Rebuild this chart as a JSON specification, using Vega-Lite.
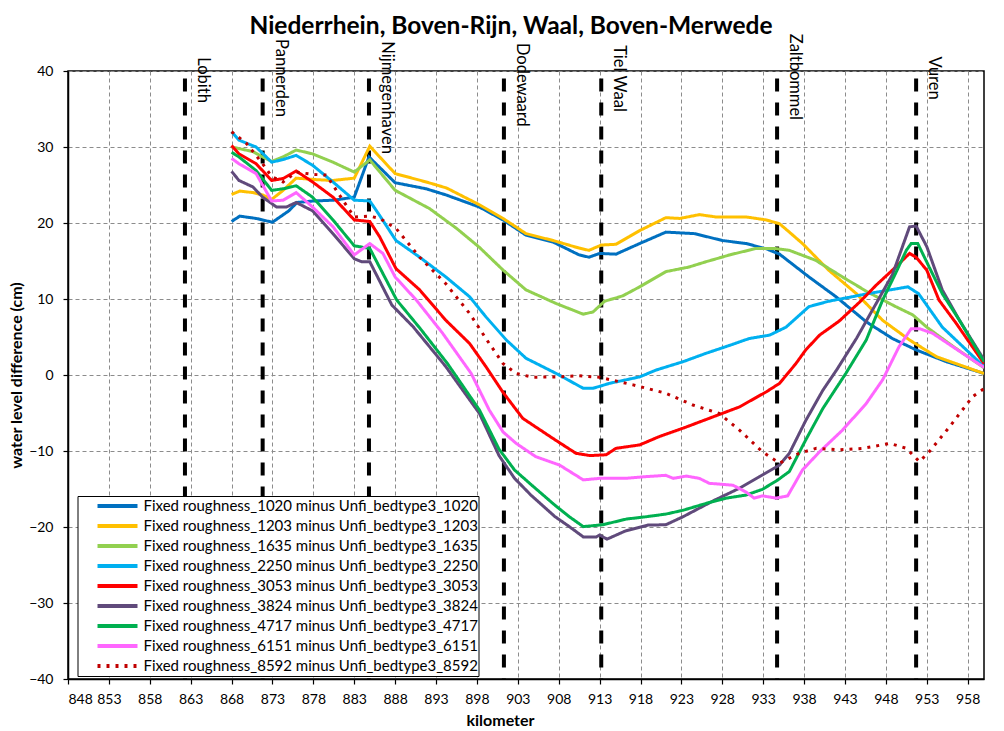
{
  "$schema": "https://vega.github.io/schema/vega-lite/v6.json",
  "width": 916,
  "height": 608,
  "autosize": "none",
  "padding": {"left": 68, "top": 71, "right": 20, "bottom": 52},
  "background": "white",
  "title": {
    "text": "Niederrhein, Boven-Rijn, Waal, Boven-Merwede",
    "font": "Lato",
    "fontSize": 24.5,
    "fontWeight": "bold",
    "color": "#000",
    "anchor": "middle",
    "dx": -15,
    "dy": 8,
    "offset": 2
  },
  "config": {
    "font": "Lato",
    "view": {"stroke": "#000", "strokeWidth": 1.5},
    "axis": {
      "labelFont": "Lato",
      "labelFontSize": 14,
      "labelColor": "#000",
      "titleFont": "Lato",
      "titleFontSize": 16,
      "titleFontWeight": "bold",
      "titleColor": "#000",
      "domainColor": "#000",
      "domainWidth": 1.5,
      "tickColor": "#000",
      "tickWidth": 1.2,
      "tickSize": 5,
      "gridColor": "#8c8c8c",
      "gridDash": [4, 3],
      "gridWidth": 1
    }
  },
  "data": {
    "values": [
      {"run": "1020", "km": 868, "cm": 20.2}, {"run": "1020", "km": 869, "cm": 20.9}, {"run": "1020", "km": 871, "cm": 20.6}, {"run": "1020", "km": 873, "cm": 20.1}, {"run": "1020", "km": 875, "cm": 21.6}, {"run": "1020", "km": 876, "cm": 22.7}, {"run": "1020", "km": 878, "cm": 22.9}, {"run": "1020", "km": 880.5, "cm": 23.0}, {"run": "1020", "km": 883, "cm": 23.4}, {"run": "1020", "km": 884.8, "cm": 28.7}, {"run": "1020", "km": 888, "cm": 25.3}, {"run": "1020", "km": 891.8, "cm": 24.5}, {"run": "1020", "km": 894.2, "cm": 23.7}, {"run": "1020", "km": 898.3, "cm": 22.1}, {"run": "1020", "km": 901.2, "cm": 20.4}, {"run": "1020", "km": 904, "cm": 18.4}, {"run": "1020", "km": 907.3, "cm": 17.5}, {"run": "1020", "km": 910.5, "cm": 15.8}, {"run": "1020", "km": 911.7, "cm": 15.5}, {"run": "1020", "km": 913, "cm": 16.0}, {"run": "1020", "km": 915, "cm": 15.9}, {"run": "1020", "km": 917.9, "cm": 17.3}, {"run": "1020", "km": 921.1, "cm": 18.8}, {"run": "1020", "km": 924.6, "cm": 18.6}, {"run": "1020", "km": 928, "cm": 17.7}, {"run": "1020", "km": 930.9, "cm": 17.3}, {"run": "1020", "km": 933.4, "cm": 16.6}, {"run": "1020", "km": 935, "cm": 15.9}, {"run": "1020", "km": 936.2, "cm": 14.9}, {"run": "1020", "km": 938.6, "cm": 12.9}, {"run": "1020", "km": 941.9, "cm": 10.3}, {"run": "1020", "km": 945.6, "cm": 7.0}, {"run": "1020", "km": 948.8, "cm": 4.8}, {"run": "1020", "km": 951.7, "cm": 3.3}, {"run": "1020", "km": 955.4, "cm": 1.75}, {"run": "1020", "km": 960, "cm": 0.2},

      {"run": "1203", "km": 868, "cm": 23.75}, {"run": "1203", "km": 869, "cm": 24.2}, {"run": "1203", "km": 870.6, "cm": 24.0}, {"run": "1203", "km": 871.8, "cm": 23.7}, {"run": "1203", "km": 872.9, "cm": 23.1}, {"run": "1203", "km": 874.3, "cm": 24.3}, {"run": "1203", "km": 875.9, "cm": 25.9}, {"run": "1203", "km": 878.4, "cm": 25.7}, {"run": "1203", "km": 880.4, "cm": 25.6}, {"run": "1203", "km": 883, "cm": 25.9}, {"run": "1203", "km": 884.9, "cm": 30.1}, {"run": "1203", "km": 888, "cm": 26.5}, {"run": "1203", "km": 891.8, "cm": 25.4}, {"run": "1203", "km": 894.3, "cm": 24.6}, {"run": "1203", "km": 898.3, "cm": 22.4}, {"run": "1203", "km": 901.2, "cm": 20.6}, {"run": "1203", "km": 904, "cm": 18.6}, {"run": "1203", "km": 907.3, "cm": 17.7}, {"run": "1203", "km": 910.5, "cm": 16.7}, {"run": "1203", "km": 911.7, "cm": 16.4}, {"run": "1203", "km": 913.2, "cm": 17.1}, {"run": "1203", "km": 915, "cm": 17.2}, {"run": "1203", "km": 917.9, "cm": 19.0}, {"run": "1203", "km": 921.1, "cm": 20.7}, {"run": "1203", "km": 922.8, "cm": 20.6}, {"run": "1203", "km": 925.2, "cm": 21.1}, {"run": "1203", "km": 927.2, "cm": 20.8}, {"run": "1203", "km": 930.9, "cm": 20.8}, {"run": "1203", "km": 933.4, "cm": 20.4}, {"run": "1203", "km": 935, "cm": 19.9}, {"run": "1203", "km": 936.2, "cm": 18.8}, {"run": "1203", "km": 937.8, "cm": 17.3}, {"run": "1203", "km": 941, "cm": 13.8}, {"run": "1203", "km": 944.4, "cm": 10.7}, {"run": "1203", "km": 947.6, "cm": 7.2}, {"run": "1203", "km": 950.9, "cm": 4.6}, {"run": "1203", "km": 954.2, "cm": 2.4}, {"run": "1203", "km": 960, "cm": 0.2},

      {"run": "1635", "km": 868, "cm": 30.0}, {"run": "1635", "km": 870.6, "cm": 29.4}, {"run": "1635", "km": 871.8, "cm": 28.7}, {"run": "1635", "km": 872.9, "cm": 28.1}, {"run": "1635", "km": 874.3, "cm": 28.7}, {"run": "1635", "km": 875.9, "cm": 29.6}, {"run": "1635", "km": 877.9, "cm": 29.1}, {"run": "1635", "km": 880.4, "cm": 28.0}, {"run": "1635", "km": 883, "cm": 26.7}, {"run": "1635", "km": 884.9, "cm": 28.3}, {"run": "1635", "km": 888, "cm": 24.3}, {"run": "1635", "km": 892.2, "cm": 21.9}, {"run": "1635", "km": 895.5, "cm": 19.3}, {"run": "1635", "km": 898.3, "cm": 16.8}, {"run": "1635", "km": 901.2, "cm": 13.8}, {"run": "1635", "km": 904, "cm": 11.2}, {"run": "1635", "km": 907.7, "cm": 9.4}, {"run": "1635", "km": 911, "cm": 8.0}, {"run": "1635", "km": 912.2, "cm": 8.3}, {"run": "1635", "km": 913.6, "cm": 9.7}, {"run": "1635", "km": 915.8, "cm": 10.4}, {"run": "1635", "km": 917.9, "cm": 11.6}, {"run": "1635", "km": 921.1, "cm": 13.6}, {"run": "1635", "km": 923.9, "cm": 14.2}, {"run": "1635", "km": 926, "cm": 14.9}, {"run": "1635", "km": 928.9, "cm": 15.8}, {"run": "1635", "km": 932.1, "cm": 16.65}, {"run": "1635", "km": 934.4, "cm": 16.65}, {"run": "1635", "km": 936.2, "cm": 16.4}, {"run": "1635", "km": 939.4, "cm": 15.1}, {"run": "1635", "km": 942.7, "cm": 12.9}, {"run": "1635", "km": 945.8, "cm": 10.9}, {"run": "1635", "km": 949.2, "cm": 9.0}, {"run": "1635", "km": 951.3, "cm": 7.9}, {"run": "1635", "km": 953, "cm": 6.3}, {"run": "1635", "km": 956.3, "cm": 3.7}, {"run": "1635", "km": 960, "cm": 0.95},

      {"run": "2250", "km": 868, "cm": 32.0}, {"run": "2250", "km": 868.9, "cm": 30.9}, {"run": "2250", "km": 871, "cm": 30.0}, {"run": "2250", "km": 872.9, "cm": 28.0}, {"run": "2250", "km": 874.3, "cm": 28.35}, {"run": "2250", "km": 875.9, "cm": 28.9}, {"run": "2250", "km": 877.9, "cm": 27.6}, {"run": "2250", "km": 880.4, "cm": 25.4}, {"run": "2250", "km": 883, "cm": 23.0}, {"run": "2250", "km": 884.9, "cm": 22.9}, {"run": "2250", "km": 886.1, "cm": 21.0}, {"run": "2250", "km": 888.1, "cm": 17.7}, {"run": "2250", "km": 891, "cm": 15.5}, {"run": "2250", "km": 894.2, "cm": 12.9}, {"run": "2250", "km": 897.1, "cm": 10.3}, {"run": "2250", "km": 899.1, "cm": 7.65}, {"run": "2250", "km": 901.6, "cm": 4.6}, {"run": "2250", "km": 904, "cm": 2.2}, {"run": "2250", "km": 907.7, "cm": 0.2}, {"run": "2250", "km": 911, "cm": -1.75}, {"run": "2250", "km": 912.2, "cm": -1.75}, {"run": "2250", "km": 914.2, "cm": -1.1}, {"run": "2250", "km": 917.9, "cm": -0.25}, {"run": "2250", "km": 919.9, "cm": 0.65}, {"run": "2250", "km": 923.2, "cm": 1.75}, {"run": "2250", "km": 926, "cm": 2.85}, {"run": "2250", "km": 928.9, "cm": 3.9}, {"run": "2250", "km": 931.3, "cm": 4.8}, {"run": "2250", "km": 933.8, "cm": 5.25}, {"run": "2250", "km": 935.8, "cm": 6.3}, {"run": "2250", "km": 938.6, "cm": 9.0}, {"run": "2250", "km": 941, "cm": 9.7}, {"run": "2250", "km": 945.8, "cm": 10.7}, {"run": "2250", "km": 950.7, "cm": 11.6}, {"run": "2250", "km": 952, "cm": 10.7}, {"run": "2250", "km": 954.9, "cm": 6.3}, {"run": "2250", "km": 960, "cm": 1.1},

      {"run": "3053", "km": 868, "cm": 30.2}, {"run": "3053", "km": 868.9, "cm": 29.1}, {"run": "3053", "km": 871, "cm": 27.8}, {"run": "3053", "km": 872.9, "cm": 25.6}, {"run": "3053", "km": 874.3, "cm": 25.85}, {"run": "3053", "km": 875.9, "cm": 26.85}, {"run": "3053", "km": 877.9, "cm": 25.4}, {"run": "3053", "km": 880.4, "cm": 23.4}, {"run": "3053", "km": 883, "cm": 20.4}, {"run": "3053", "km": 884.9, "cm": 20.2}, {"run": "3053", "km": 886.1, "cm": 18.2}, {"run": "3053", "km": 888.1, "cm": 14.0}, {"run": "3053", "km": 891, "cm": 11.2}, {"run": "3053", "km": 894.2, "cm": 7.2}, {"run": "3053", "km": 897.1, "cm": 4.15}, {"run": "3053", "km": 899.1, "cm": 1.1}, {"run": "3053", "km": 901.2, "cm": -2.3}, {"run": "3053", "km": 903.6, "cm": -5.7}, {"run": "3053", "km": 907.3, "cm": -8.35}, {"run": "3053", "km": 910.1, "cm": -10.3}, {"run": "3053", "km": 911.8, "cm": -10.6}, {"run": "3053", "km": 913.8, "cm": -10.5}, {"run": "3053", "km": 915, "cm": -9.65}, {"run": "3053", "km": 917.9, "cm": -9.2}, {"run": "3053", "km": 920.3, "cm": -8.1}, {"run": "3053", "km": 923.2, "cm": -7.0}, {"run": "3053", "km": 926.4, "cm": -5.7}, {"run": "3053", "km": 930.1, "cm": -4.2}, {"run": "3053", "km": 933.4, "cm": -2.2}, {"run": "3053", "km": 935, "cm": -1.1}, {"run": "3053", "km": 937, "cm": 1.5}, {"run": "3053", "km": 938.2, "cm": 3.3}, {"run": "3053", "km": 939.9, "cm": 5.25}, {"run": "3053", "km": 942.3, "cm": 7.1}, {"run": "3053", "km": 944.8, "cm": 9.6}, {"run": "3053", "km": 946.8, "cm": 11.8}, {"run": "3053", "km": 949.2, "cm": 14.2}, {"run": "3053", "km": 950.9, "cm": 16.0}, {"run": "3053", "km": 951.7, "cm": 15.5}, {"run": "3053", "km": 953, "cm": 13.8}, {"run": "3053", "km": 954.5, "cm": 9.85}, {"run": "3053", "km": 956.6, "cm": 6.8}, {"run": "3053", "km": 960, "cm": 1.5},

      {"run": "3824", "km": 868, "cm": 26.8}, {"run": "3824", "km": 868.9, "cm": 25.6}, {"run": "3824", "km": 870.6, "cm": 24.75}, {"run": "3824", "km": 871.8, "cm": 23.4}, {"run": "3824", "km": 873.5, "cm": 22.1}, {"run": "3824", "km": 874.7, "cm": 22.1}, {"run": "3824", "km": 875.9, "cm": 22.7}, {"run": "3824", "km": 877.9, "cm": 21.6}, {"run": "3824", "km": 880.4, "cm": 18.6}, {"run": "3824", "km": 883, "cm": 15.3}, {"run": "3824", "km": 883.9, "cm": 14.9}, {"run": "3824", "km": 884.9, "cm": 14.9}, {"run": "3824", "km": 887.6, "cm": 9.2}, {"run": "3824", "km": 890.2, "cm": 6.35}, {"run": "3824", "km": 894.2, "cm": 1.1}, {"run": "3824", "km": 898.3, "cm": -5.05}, {"run": "3824", "km": 900.7, "cm": -10.6}, {"run": "3824", "km": 902.6, "cm": -13.6}, {"run": "3824", "km": 904.6, "cm": -15.8}, {"run": "3824", "km": 907.5, "cm": -18.6}, {"run": "3824", "km": 909.3, "cm": -19.95}, {"run": "3824", "km": 911, "cm": -21.3}, {"run": "3824", "km": 912.6, "cm": -21.3}, {"run": "3824", "km": 913, "cm": -21.05}, {"run": "3824", "km": 913.9, "cm": -21.6}, {"run": "3824", "km": 916.2, "cm": -20.5}, {"run": "3824", "km": 918.9, "cm": -19.75}, {"run": "3824", "km": 921.1, "cm": -19.7}, {"run": "3824", "km": 923.2, "cm": -18.65}, {"run": "3824", "km": 927, "cm": -16.5}, {"run": "3824", "km": 930.1, "cm": -14.9}, {"run": "3824", "km": 932.5, "cm": -13.4}, {"run": "3824", "km": 935, "cm": -11.85}, {"run": "3824", "km": 936.2, "cm": -10.3}, {"run": "3824", "km": 938.2, "cm": -6.0}, {"run": "3824", "km": 940.3, "cm": -2.0}, {"run": "3824", "km": 942, "cm": 0.7}, {"run": "3824", "km": 944.4, "cm": 4.8}, {"run": "3824", "km": 946.6, "cm": 9.0}, {"run": "3824", "km": 948.8, "cm": 13.2}, {"run": "3824", "km": 950.9, "cm": 19.5}, {"run": "3824", "km": 951.7, "cm": 19.6}, {"run": "3824", "km": 953, "cm": 16.9}, {"run": "3824", "km": 954.9, "cm": 11.2}, {"run": "3824", "km": 957, "cm": 7.2}, {"run": "3824", "km": 960, "cm": 2.0},

      {"run": "4717", "km": 868, "cm": 29.3}, {"run": "4717", "km": 868.9, "cm": 28.7}, {"run": "4717", "km": 871, "cm": 26.9}, {"run": "4717", "km": 872.9, "cm": 24.3}, {"run": "4717", "km": 874.3, "cm": 24.5}, {"run": "4717", "km": 875.9, "cm": 24.9}, {"run": "4717", "km": 877.9, "cm": 23.4}, {"run": "4717", "km": 880.4, "cm": 20.4}, {"run": "4717", "km": 883, "cm": 17.0}, {"run": "4717", "km": 884.9, "cm": 16.65}, {"run": "4717", "km": 888.2, "cm": 9.85}, {"run": "4717", "km": 891, "cm": 6.2}, {"run": "4717", "km": 894.4, "cm": 1.5}, {"run": "4717", "km": 898.3, "cm": -4.6}, {"run": "4717", "km": 900.7, "cm": -9.75}, {"run": "4717", "km": 902.6, "cm": -12.5}, {"run": "4717", "km": 904.6, "cm": -14.4}, {"run": "4717", "km": 907.5, "cm": -17.1}, {"run": "4717", "km": 909.3, "cm": -18.65}, {"run": "4717", "km": 911, "cm": -19.95}, {"run": "4717", "km": 913.4, "cm": -19.7}, {"run": "4717", "km": 916.3, "cm": -18.95}, {"run": "4717", "km": 918.7, "cm": -18.65}, {"run": "4717", "km": 921.1, "cm": -18.3}, {"run": "4717", "km": 923.2, "cm": -17.8}, {"run": "4717", "km": 926, "cm": -16.9}, {"run": "4717", "km": 928.5, "cm": -16.2}, {"run": "4717", "km": 930.9, "cm": -15.8}, {"run": "4717", "km": 932.9, "cm": -15.05}, {"run": "4717", "km": 934.8, "cm": -13.8}, {"run": "4717", "km": 936.2, "cm": -12.7}, {"run": "4717", "km": 938.2, "cm": -8.55}, {"run": "4717", "km": 940.3, "cm": -4.4}, {"run": "4717", "km": 943.1, "cm": 0.2}, {"run": "4717", "km": 945.6, "cm": 4.6}, {"run": "4717", "km": 947.6, "cm": 9.85}, {"run": "4717", "km": 949.2, "cm": 13.4}, {"run": "4717", "km": 950.5, "cm": 16.4}, {"run": "4717", "km": 951.1, "cm": 17.3}, {"run": "4717", "km": 951.9, "cm": 17.3}, {"run": "4717", "km": 953.3, "cm": 14.2}, {"run": "4717", "km": 954.9, "cm": 10.7}, {"run": "4717", "km": 957, "cm": 7.2}, {"run": "4717", "km": 960, "cm": 1.75},

      {"run": "6151", "km": 868, "cm": 28.5}, {"run": "6151", "km": 868.9, "cm": 27.8}, {"run": "6151", "km": 871, "cm": 26.5}, {"run": "6151", "km": 872.9, "cm": 22.9}, {"run": "6151", "km": 874.3, "cm": 23.0}, {"run": "6151", "km": 875.9, "cm": 24.0}, {"run": "6151", "km": 877.9, "cm": 22.1}, {"run": "6151", "km": 880.4, "cm": 19.5}, {"run": "6151", "km": 883, "cm": 15.8}, {"run": "6151", "km": 884.9, "cm": 17.3}, {"run": "6151", "km": 886.5, "cm": 16.0}, {"run": "6151", "km": 888, "cm": 12.9}, {"run": "6151", "km": 890.6, "cm": 9.85}, {"run": "6151", "km": 893.8, "cm": 5.5}, {"run": "6151", "km": 897.3, "cm": 0.2}, {"run": "6151", "km": 899.5, "cm": -4.6}, {"run": "6151", "km": 901.2, "cm": -7.5}, {"run": "6151", "km": 902.8, "cm": -9.0}, {"run": "6151", "km": 905.2, "cm": -10.75}, {"run": "6151", "km": 908.1, "cm": -11.85}, {"run": "6151", "km": 911, "cm": -13.8}, {"run": "6151", "km": 913, "cm": -13.6}, {"run": "6151", "km": 916.2, "cm": -13.6}, {"run": "6151", "km": 918.3, "cm": -13.4}, {"run": "6151", "km": 921.1, "cm": -13.2}, {"run": "6151", "km": 922, "cm": -13.6}, {"run": "6151", "km": 923.6, "cm": -13.3}, {"run": "6151", "km": 925.2, "cm": -13.6}, {"run": "6151", "km": 926.4, "cm": -14.25}, {"run": "6151", "km": 929.3, "cm": -14.5}, {"run": "6151", "km": 930.9, "cm": -15.4}, {"run": "6151", "km": 931.9, "cm": -16.2}, {"run": "6151", "km": 932.9, "cm": -15.9}, {"run": "6151", "km": 934.6, "cm": -16.2}, {"run": "6151", "km": 936, "cm": -15.9}, {"run": "6151", "km": 937.8, "cm": -12.5}, {"run": "6151", "km": 939.9, "cm": -10.1}, {"run": "6151", "km": 942.7, "cm": -7.25}, {"run": "6151", "km": 945.6, "cm": -3.75}, {"run": "6151", "km": 947.6, "cm": -0.65}, {"run": "6151", "km": 949.6, "cm": 3.7}, {"run": "6151", "km": 951.1, "cm": 6.1}, {"run": "6151", "km": 952.1, "cm": 6.1}, {"run": "6151", "km": 953.7, "cm": 5.5}, {"run": "6151", "km": 956.2, "cm": 3.7}, {"run": "6151", "km": 960, "cm": 1.0},

      {"run": "8592", "km": 868, "cm": 32.0}, {"run": "8592", "km": 869.8, "cm": 30.5}, {"run": "8592", "km": 871.8, "cm": 27.8}, {"run": "8592", "km": 872.9, "cm": 26.1}, {"run": "8592", "km": 874.3, "cm": 25.4}, {"run": "8592", "km": 875.9, "cm": 26.7}, {"run": "8592", "km": 877.9, "cm": 26.4}, {"run": "8592", "km": 879.6, "cm": 26.3}, {"run": "8592", "km": 881.6, "cm": 23.0}, {"run": "8592", "km": 883, "cm": 20.8}, {"run": "8592", "km": 884.9, "cm": 20.9}, {"run": "8592", "km": 886.1, "cm": 20.6}, {"run": "8592", "km": 888.1, "cm": 19.3}, {"run": "8592", "km": 891, "cm": 15.5}, {"run": "8592", "km": 894.2, "cm": 12.0}, {"run": "8592", "km": 897.1, "cm": 8.1}, {"run": "8592", "km": 899.5, "cm": 4.15}, {"run": "8592", "km": 901.2, "cm": 1.5}, {"run": "8592", "km": 902.8, "cm": 0.2}, {"run": "8592", "km": 904.8, "cm": -0.3}, {"run": "8592", "km": 907.7, "cm": -0.25}, {"run": "8592", "km": 910.5, "cm": -0.1}, {"run": "8592", "km": 913, "cm": -0.3}, {"run": "8592", "km": 917.1, "cm": -1.3}, {"run": "8592", "km": 921.1, "cm": -2.4}, {"run": "8592", "km": 924.4, "cm": -3.95}, {"run": "8592", "km": 927.6, "cm": -5.05}, {"run": "8592", "km": 930.1, "cm": -7.25}, {"run": "8592", "km": 932.9, "cm": -10.1}, {"run": "8592", "km": 935, "cm": -11.6}, {"run": "8592", "km": 937.4, "cm": -10.3}, {"run": "8592", "km": 939.5, "cm": -9.65}, {"run": "8592", "km": 942.3, "cm": -9.85}, {"run": "8592", "km": 945.2, "cm": -9.65}, {"run": "8592", "km": 948.5, "cm": -9.0}, {"run": "8592", "km": 950.5, "cm": -9.65}, {"run": "8592", "km": 952.1, "cm": -11.4}, {"run": "8592", "km": 953.3, "cm": -10.1}, {"run": "8592", "km": 955.8, "cm": -6.8}, {"run": "8592", "km": 958.6, "cm": -2.85}, {"run": "8592", "km": 960, "cm": -1.8}
    ]
  },
  "layer": [
    {
      "data": {
        "values": [
          {"station": "Lobith", "km": 862.3, "top": 39, "bottom": -40},
          {"station": "Pannerden", "km": 871.8, "top": 39, "bottom": -40},
          {"station": "Nijmegenhaven", "km": 884.8, "top": 39, "bottom": -40},
          {"station": "Dodewaard", "km": 901.3, "top": 39, "bottom": -40},
          {"station": "Tiel Waal", "km": 913.2, "top": 39, "bottom": -40},
          {"station": "Zaltbommel", "km": 934.7, "top": 39, "bottom": -40},
          {"station": "Vuren", "km": 951.7, "top": 39, "bottom": -40}
        ]
      },
      "mark": {"type": "rule", "color": "#000", "strokeWidth": 4, "strokeDash": [13, 11]},
      "encoding": {
        "x": {"field": "km", "type": "quantitative"},
        "y": {"field": "top", "type": "quantitative"},
        "y2": {"field": "bottom"}
      }
    },
    {
      "mark": {"type": "line", "strokeWidth": 3, "clip": true},
      "encoding": {
        "x": {
          "field": "km",
          "type": "quantitative",
          "scale": {"domain": [848, 960], "nice": false, "zero": false},
          "axis": {
            "title": "kilometer",
            "values": [848, 853, 858, 863, 868, 873, 878, 883, 888, 893, 898, 903, 908, 913, 918, 923, 928, 933, 938, 943, 948, 953, 958],
            "labelPadding": 8,
            "titlePadding": 6,
            "titleX": 432
          }
        },
        "y": {
          "field": "cm",
          "type": "quantitative",
          "scale": {"domain": [-40, 40], "nice": false},
          "axis": {
            "title": "water level difference (cm)",
            "values": [-40, -35, -30, -25, -20, -15, -10, -5, 0, 5, 10, 15, 20, 25, 30, 35, 40],
            "labelPadding": 10,
            "titlePadding": 4
          }
        },
        "color": {
          "field": "run",
          "type": "nominal",
          "scale": {
            "domain": ["1020", "1203", "1635", "2250", "3053", "3824", "4717", "6151", "8592"],
            "range": ["#0070C0", "#FFC000", "#92D050", "#00B0F0", "#FF0000", "#604A7B", "#00B050", "#FF66FF", "#C00000"]
          },
          "legend": {
            "title": null,
            "orient": "none",
            "legendX": 9.5,
            "legendY": 425,
            "direction": "vertical",
            "fillColor": "#fff",
            "strokeColor": "#000",
            "padding": 0,
            "symbolType": "stroke",
            "symbolSize": 1600,
            "symbolStrokeWidth": 4,
            "symbolOffset": 18,
            "labelOffset": 4,
            "clipHeight": 20,
            "rowPadding": 0,
            "labelFont": "Lato",
            "labelFontSize": 15,
            "labelColor": "#000",
            "labelLimit": 0,
            "labelExpr": "'Fixed roughness_' + datum.label + ' minus Unfi_bedtype3_' + datum.label"
          }
        },
        "strokeDash": {
          "field": "run",
          "type": "nominal",
          "scale": {
            "domain": ["1020", "1203", "1635", "2250", "3053", "3824", "4717", "6151", "8592"],
            "range": [[1, 0], [1, 0], [1, 0], [1, 0], [1, 0], [1, 0], [1, 0], [1, 0], [3, 6]]
          },
          "legend": {
            "title": null,
            "orient": "none",
            "legendX": 9.5,
            "legendY": 425,
            "labelExpr": "'Fixed roughness_' + datum.label + ' minus Unfi_bedtype3_' + datum.label"
          }
        },
        "order": {"field": "km", "type": "quantitative"}
      }
    },
    {
      "data": {
        "values": [
          {"station": "Lobith", "km": 862.3, "labelTop": 41.8},
          {"station": "Pannerden", "km": 871.8, "labelTop": 44.2},
          {"station": "Nijmegenhaven", "km": 884.8, "labelTop": 43.9},
          {"station": "Dodewaard", "km": 901.3, "labelTop": 43.7},
          {"station": "Tiel Waal", "km": 913.2, "labelTop": 43.4},
          {"station": "Zaltbommel", "km": 934.7, "labelTop": 44.9},
          {"station": "Vuren", "km": 951.7, "labelTop": 41.9}
        ]
      },
      "mark": {
        "type": "text",
        "angle": 90,
        "align": "left",
        "baseline": "alphabetic",
        "dy": -13,
        "font": "Lato",
        "fontSize": 16.5,
        "color": "#000"
      },
      "encoding": {
        "x": {"field": "km", "type": "quantitative"},
        "y": {"field": "labelTop", "type": "quantitative"},
        "text": {"field": "station"}
      }
    }
  ]
}
